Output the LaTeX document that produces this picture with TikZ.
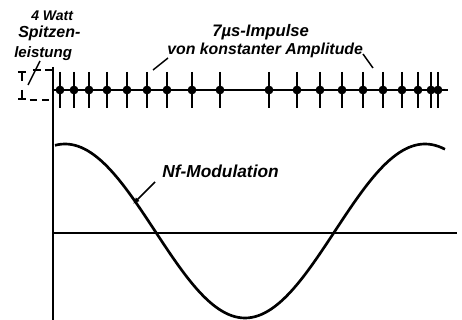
\documentclass[tikz,border=0pt]{standalone}
\usepackage{fontspec}
\setmainfont{Liberation Sans}
\usetikzlibrary{arrows.meta}
\begin{document}
\begin{tikzpicture}[x=0.75pt,y=-0.75pt,
  lab/.style={font=\bfseries\itshape, inner sep=0pt, anchor=base west},
  leader/.style={line width=1.1pt},
  pulse/.style={line width=1.9pt},
  axisline/.style={line width=1.5pt},
  curve/.style={line width=2pt}]
\useasboundingbox[fill=white] (0,0) rectangle (462,320);
% labels
\node[lab, font=\fontsize{10.5}{12}\selectfont\bfseries\itshape] (watt) at (31,21) {4 Watt};
\node[lab, font=\fontsize{12}{14}\selectfont\bfseries\itshape] (spitzen) at (18,38) {Spitzen-};
\node[lab, font=\fontsize{11.3}{13}\selectfont\bfseries\itshape] (leistung) at (14,58) {leistung};
\node[lab, font=\fontsize{12.5}{14}\selectfont\bfseries\itshape] (impulse) at (212,37) {7µs-Impulse};
\node[lab, font=\fontsize{11.9}{14}\selectfont\bfseries\itshape] (konst) at (167,55) {von konstanter Amplitude};
\node[lab, font=\fontsize{13}{15}\selectfont\bfseries\itshape] (nf) at (162,178) {Nf-Modulation};
% axes
\coordinate (axtop) at (53,67);
\coordinate (axbot) at (53,320);
\draw[axisline] (axtop) -- (axbot);
\coordinate (zl) at (53,233);
\coordinate (zr) at (457,233);
\draw[line width=1.2pt] (zl) -- (zr);
% pulse train
\coordinate (bl) at (52,90);
\coordinate (br) at (448,90);
\draw[line width=1.5pt] (bl) -- (br);
\foreach \p in {60,74,89,107,127,147,167,192,220,269,297,320,342,363,383,402,418,431,438}{
  \draw[pulse] (\p,72) -- (\p,108);
  \fill (\p,90) circle[radius=3.3pt];
}
% peak power marker
\coordinate (dt1) at (33,70);
\coordinate (dt2) at (52,70);
\coordinate (db1) at (30,100);
\coordinate (db2) at (52,100);
\draw[line width=1pt, dash pattern=on 6pt off 3pt] (dt1) -- (dt2);
\draw[line width=1pt, dash pattern=on 5pt off 4pt] (db1) -- (db2);
\coordinate (a1s) at (22,81);
\coordinate (a1e) at (22,71);
\coordinate (a2s) at (22,90);
\coordinate (a2e) at (22,100);
\draw[line width=1.6pt, -{Bar[width=6pt,line width=1.6pt]}] (a1s) -- (a1e);
\draw[line width=1.6pt, -{Bar[width=6pt,line width=1.6pt]}] (a2s) -- (a2e);
% leaders
\coordinate (l1a) at (40,61);
\coordinate (l1b) at (28,85);
\draw[leader] (l1a) -- (l1b);
\coordinate (l2a) at (168,58);
\coordinate (l2b) at (153,70);
\draw[leader] (l2a) -- (l2b);
\coordinate (l3a) at (363,54);
\coordinate (l3b) at (373,68);
\draw[leader] (l3a) -- (l3b);
\coordinate (l4a) at (155,182);
\coordinate (l4b) at (133,204);
\draw[leader, -{Latex[length=5pt,width=4pt]}] (l4a) -- (l4b);
% modulation curve
\draw[curve, smooth] plot[domain=55:445, samples=120] (\x, {231-87*cos(\x-65)});
\end{tikzpicture}
\end{document}
